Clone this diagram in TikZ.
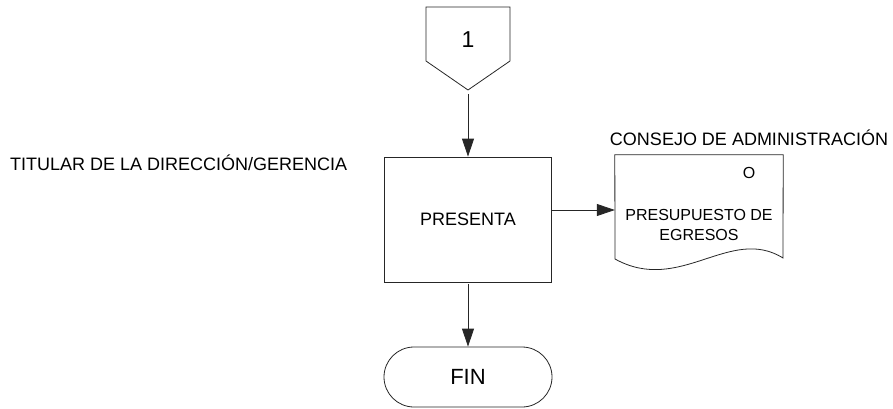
\documentclass[tikz,border=0pt]{standalone}
\usepackage{fontspec}
\setmainfont{Liberation Sans}
\usepackage{tikz}
\usetikzlibrary{shapes.misc,arrows.meta,positioning}

\begin{document}
\begin{tikzpicture}[
  x=1pt, y=-1pt,
  font=\fontsize{18}{21}\selectfont,
  proc/.style={rectangle, draw=black!85, line width=0.8pt,
               minimum width=167pt, minimum height=125pt, inner sep=0pt},
  term/.style={rounded rectangle, draw=black!85, line width=0.8pt,
               minimum width=168pt, minimum height=60pt, inner sep=0pt,
               font=\fontsize{22}{26}\selectfont},
  doc/.style={rectangle, minimum width=168pt, minimum height=110pt, inner sep=0pt},
  small/.style={font=\fontsize{16}{20}\selectfont, align=center, inner sep=0pt},
  lane/.style={inner sep=0pt},
  arr/.style={-{Triangle[length=18pt,width=12pt]}, line width=0.8pt, black!85}]

\useasboundingbox (0,0) rectangle (893,409);

% conector de pagina
\node[font=\fontsize{23}{26}\selectfont, inner sep=0pt] (c1) at (468,40) {1};
\draw[line width=0.8pt, black!85] (426,7) -- (510,7) -- (510,61) -- (468,90)
  -- (426,61) -- cycle;
\coordinate (c1tip) at (468,90);

% responsables
\node[lane, anchor=west] (titular) at (10,163) {TITULAR DE LA DIRECCI\'ON/GERENCIA};
\node[lane] (consejo) at (749,138) {CONSEJO DE ADMINISTRACI\'ON};

% actividad y documento
\node[proc] (presenta) at (468,219.5) {PRESENTA};
\node[doc] (presup) at (699,210) {};
\draw[line width=0.8pt, black!85] (presup.north west) -- (presup.north east)
  -- (783,258) .. controls (730,225) and (680,295) .. (615,259) -- cycle;
\node[small] (orig) at (749,173) {O};
\node[small] (presuptxt) at (699,225) {PRESUPUESTO DE\\EGRESOS};

% fin
\node[term] (fin) at (468,377) {FIN};

\draw[arr, shorten <=4pt] (c1tip) -- (presenta.north);
\draw[arr] (presenta.east |- presup.west) -- (presup.west);
\draw[arr, shorten <=2pt] (presenta.south) -- (fin.north);
\end{tikzpicture}
\end{document}
